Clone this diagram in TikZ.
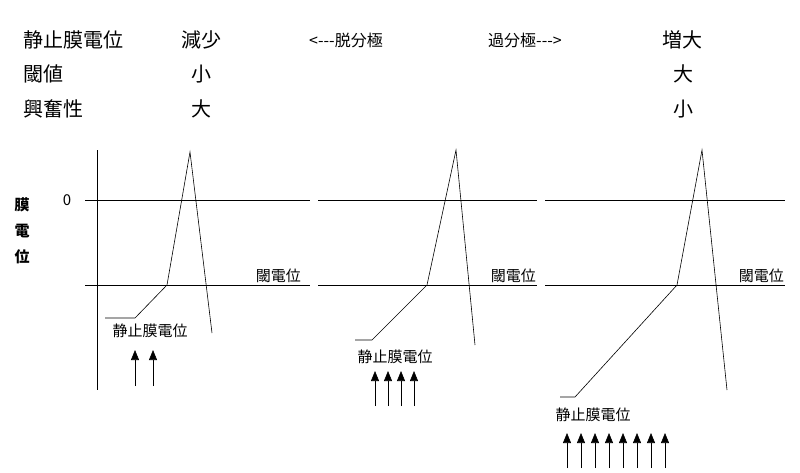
\documentclass[tikz,border=0pt]{standalone}
\usepackage{fontspec}
\setmainfont{Noto Sans CJK JP}
\usetikzlibrary{arrows.meta}
\begin{document}
\begin{tikzpicture}[x=1pt,y=-1pt,
  big/.style={font=\fontsize{20}{20}\selectfont},
  mid/.style={font=\fontsize{16}{16}\selectfont},
  sm/.style={font=\fontsize{15}{15}\selectfont},
  bsm/.style={font=\bfseries\fontsize{15}{15}\selectfont},
  ln/.style={line width=0.6pt},
  up/.style={line width=0.6pt,-{Triangle[length=10pt,width=8pt]}}]
\useasboundingbox (0,0) rectangle (800,472);
\node[big,anchor=west] (a1) at (20,40) {静止膜電位};
\node[big] (a2) at (201,40) {減少};
\node[big,anchor=west] (b1) at (20,74) {閾値};
\node[big] (b2) at (201,74) {小};
\node[big,anchor=west] (c1) at (20,109) {興奮性};
\node[big] (c2) at (201,109) {大};
\node[mid] (d1) at (346,40) {<-{}-{}-脱分極};
\node[mid] (d2) at (525,40) {過分極-{}-{}->};
\node[big] (a3) at (682,40) {増大};
\node[big] (b3) at (683,74) {大};
\node[big] (c3) at (683,109) {小};
\node[bsm] (m1) at (22,205) {膜};
\node[bsm] (m2) at (22,231) {電};
\node[bsm] (m3) at (22,257) {位};
\node[sm] (zero) at (67,200) {0};
\draw[ln] (97,150) -- (97,390);
\foreach \a/\b in {85/310,318/537,545/785}{
  \draw[ln] (\a,200) -- (\b,200);
  \draw[ln] (\a,285) -- (\b,285);}
\node[sm,anchor=south east,inner sep=1pt] (t1) at (302,284) {閾電位};
\node[sm,anchor=south east,inner sep=1pt] (t2) at (537,284) {閾電位};
\node[sm,anchor=south east,inner sep=1pt] (t3) at (785,284) {閾電位};
\draw[ln] (105,318) -- (135,318) -- (167,285) -- (190,152) -- (212,333);
\draw[ln] (355,340) -- (372,340) -- (427,285) -- (456,150) -- (475,345);
\draw[ln] (560,397) -- (575,397) -- (677,285) -- (702,150) -- (727,390);
\node[sm] (r1) at (150,331) {静止膜電位};
\node[sm] (r2) at (395,357) {静止膜電位};
\node[sm] (r3) at (593,415) {静止膜電位};
\foreach \x in {135,153}{\draw[up] (\x,386) -- (\x,350);}
\foreach \x in {375,388,401,414}{\draw[up] (\x,406) -- (\x,371);}
\foreach \x in {567,581,595,609,623,637,651,665}{\draw[up] (\x,468) -- (\x,433);}
\end{tikzpicture}
\end{document}
